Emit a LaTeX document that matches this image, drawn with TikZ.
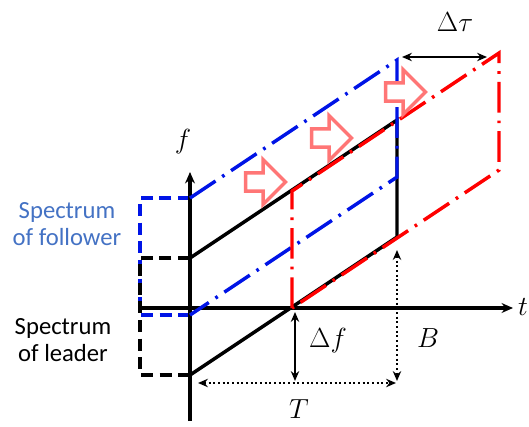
\documentclass[tikz,border=0pt]{standalone}
\usepackage{fontspec}
\setsansfont{Carlito}
\usetikzlibrary{arrows.meta,shapes.arrows}
\usepackage{xcolor}
\definecolor{followline}{RGB}{0,20,230}
\definecolor{followtext}{RGB}{68,114,196}
\definecolor{shiftline}{RGB}{255,0,0}
\definecolor{movearrow}{RGB}{255,118,118}

\begin{document}
\begin{tikzpicture}[x=0.75pt,y=-0.75pt,>={Stealth[length=2.6mm,width=2.2mm]},
  chirp/.style={line width=2.6pt},
  dashdot/.style={line width=2.6pt,dash pattern=on 23pt off 6pt on 2pt off 6pt},
  specbox/.style={line width=2.8pt,dash pattern=on 9pt off 5pt},
  movebox/.style={single arrow,draw=movearrow,line width=2.6pt,fill=white,inner sep=5.5pt,minimum height=30pt,single arrow head extend=10pt},
  lbl/.style={font=\fontsize{20}{24}\selectfont},
  spec/.style={font=\sffamily\fontsize{18.5}{20.5}\selectfont,align=center}]
\useasboundingbox (0,0) rectangle (529,426);

% corners of the three chirps
\coordinate (O) at (190,308);
\coordinate (L1) at (190,375); \coordinate (L2) at (397,237);
\coordinate (L3) at (397,120); \coordinate (L4) at (190,258);
\coordinate (F1) at (190,315); \coordinate (F2) at (397,177);
\coordinate (F3) at (397,60);  \coordinate (F4) at (190,198);
\coordinate (S1) at (292,308); \coordinate (S2) at (499,170);
\coordinate (S3) at (499,53);  \coordinate (S4) at (292,191);

% spectra
\draw[specbox,followline] (F4) -- (140,198) -- (140,315) -- (F1);
\draw[specbox] (L4) -- (140,258) -- (140,375) -- (L1);

% axes
\coordinate (tstart) at (140,308); \coordinate (tend) at (513,308);
\coordinate (fstart) at (190,421); \coordinate (fend) at (190,172);
\draw[line width=2.6pt,-{Stealth[length=3mm,width=2.6mm]}] (tstart) -- (tend);
\draw[line width=2.6pt,-{Stealth[length=3mm,width=2.6mm]}] (fstart) -- (fend);
\node[lbl] (t) at (523,307) {$t$};
\node[lbl] (f) at (183,142) {$f$};

% leader, follower, shifted
\draw[chirp] (L4) -- (L3) -- (L2) -- (L1);
\draw[dashdot,followline] (F4) -- (F3) -- (F2) -- (F1);
\draw[dashdot,shiftline] (S1) -- (S4) -- (S3) -- (S2) -- cycle;

% moving arrows
\node[movebox] (m1) at (261,182) {};
\node[movebox] (m2) at (327,138) {};
\node[movebox] (m3) at (401,92) {};

% measures
\coordinate (tau1) at (402,57); \coordinate (tau2) at (487,57);
\draw[<->,line width=1.5pt] (tau1) -- (tau2);
\node[lbl] (dtau) at (455,22) {$\Delta\tau$};
\coordinate (df1) at (295,312); \coordinate (df2) at (295,381);
\draw[<->,line width=1.5pt] (df1) -- (df2);
\node[lbl] (df) at (328,341) {$\Delta f$};
\coordinate (B1) at (397,250); \coordinate (B2) at (397,381);
\draw[<->,line width=1.5pt,dotted] (B1) -- (B2);
\node[lbl] (B) at (428,338) {$B$};
\coordinate (T1) at (198,383); \coordinate (T2) at (396,383);
\draw[<->,line width=1.5pt,dotted] (T1) -- (T2);
\node[lbl] (T) at (299,409) {$T$};

\node[spec,text=followtext] (follower) at (67,224) {Spectrum\\of follower};
\node[spec] (leader) at (63,340) {Spectrum\\of leader};
\end{tikzpicture}
\end{document}
